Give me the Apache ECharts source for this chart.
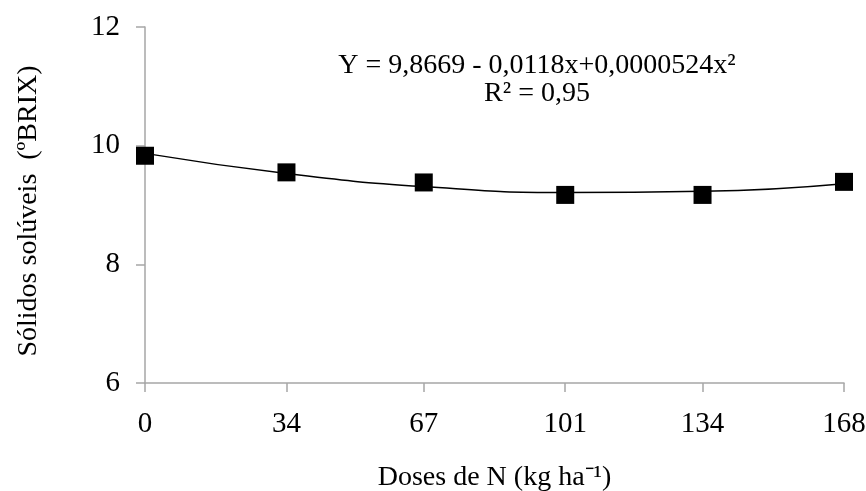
<!DOCTYPE html>
<html><head><meta charset="utf-8">
<script src="https://cdn.jsdelivr.net/npm/echarts@6/dist/echarts.min.js"></script>
<style>html,body{margin:0;padding:0;background:#fff}#c{width:866px;height:491px}</style>
</head><body><div id="c"></div>
<script>
const doses = [0, 34, 67, 101, 134, 168];
const observed = [9.83, 9.55, 9.38, 9.17, 9.17, 9.39];
const fitted = [9.87, 9.53, 9.31, 9.21, 9.23, 9.36];
const yTicks = [6, 8, 10, 12];
const equationText = ['Y = 9,8669 - 0,0118x+0,0000524x²', 'R² = 0,95'];
const xTitle = 'Doses de N (kg ha⁻¹)';
const yTitle = 'Sólidos solúveis  (ºBRIX)';

const font = 'Liberation Serif, Times New Roman, serif';
const axisGrey = '#a6a6a6';
const chart = echarts.init(document.getElementById('c'), null, {renderer: 'canvas'});
chart.setOption({
  animation: false,
  backgroundColor: '#fff',
  grid: {left: 145, right: 22, top: 27, bottom: 108, containLabel: false, outerBoundsMode: 'none'},
  xAxis: {
    type: 'value', min: 0, max: 168,
    name: xTitle, nameLocation: 'middle', nameGap: 81,
    nameTextStyle: {fontFamily: font, fontSize: 28, color: '#000'},
    axisLine: {show: true, lineStyle: {color: axisGrey, width: 1.5}},
    axisTick: {show: true, length: 9, lineStyle: {color: axisGrey, width: 1.5}, customValues: doses},
    axisLabel: {fontFamily: font, fontSize: 29, color: '#000', margin: 27, customValues: doses},
    splitLine: {show: false}
  },
  yAxis: {
    type: 'value', min: 6, max: 12, interval: 2,
    name: yTitle, nameLocation: 'middle', nameGap: 102, nameRotate: 90,
    nameTextStyle: {fontFamily: font, fontSize: 28, color: '#000', padding: [0, 12, 0, 0]},
    axisLine: {show: true, lineStyle: {color: axisGrey, width: 1.5}},
    axisTick: {show: true, length: 9, lineStyle: {color: axisGrey, width: 1.5}, customValues: yTicks},
    axisLabel: {fontFamily: font, fontSize: 29, color: '#000', margin: 25, customValues: yTicks},
    splitLine: {show: false}
  },
  graphic: [{
    type: 'text', x: 537, y: 52,
    style: {text: equationText.join('\n'), fontFamily: font, fontSize: 28, fill: '#000', align: 'center', verticalAlign: 'top', lineHeight: 28}
  }],
  series: [
    {type: 'line', data: doses.map((d, i) => [d, fitted[i]]), smooth: 0.5, showSymbol: false, symbol: 'none',
     lineStyle: {color: '#000', width: 1.5}, z: 2},
    {type: 'scatter', data: doses.map((d, i) => [d, observed[i]]), symbol: 'rect', symbolSize: 18,
     itemStyle: {color: '#000', opacity: 1}, z: 3}
  ]
});
</script></body></html>
